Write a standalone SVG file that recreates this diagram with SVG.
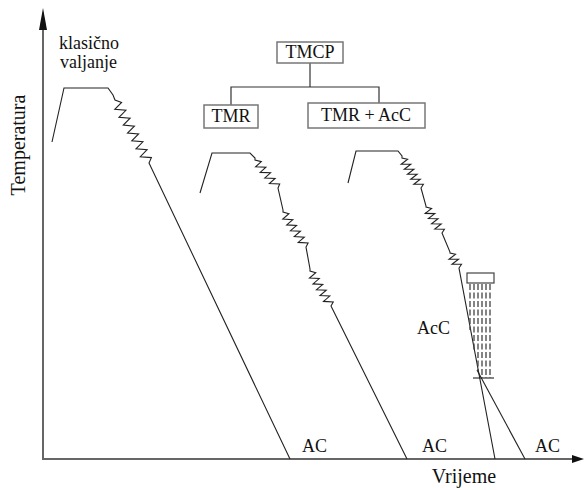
<svg xmlns="http://www.w3.org/2000/svg" width="584" height="490" viewBox="0 0 584 490" font-family="'Liberation Serif', 'DejaVu Serif', serif">
<style>
text{font-family:'Liberation Serif','DejaVu Serif',serif;fill:#111}
.t18{font-size:18px}
.t20{font-size:20px}
.box{fill:#fff;stroke:#777;stroke-width:1.5}
.ln{fill:none;stroke:#222;stroke-width:1.1;stroke-linejoin:miter}
.conn{fill:none;stroke:#333;stroke-width:1.2}
.axis{fill:none;stroke:#666;stroke-width:2}
.dash{fill:none;stroke:#444;stroke-width:1.3;stroke-dasharray:6 2.5}
</style>
<rect width="584" height="490" fill="#fff"/>
<g id="axes">
<line class="axis" x1="43" y1="459" x2="43" y2="26"/>
<line class="axis" x1="42" y1="459" x2="574" y2="459"/>
<polygon points="43,8 47,30 39,30" fill="#111"/>
<polygon points="584,459 572,455 572,463" fill="#111"/>
<text class="t20" transform="translate(25,145) rotate(-90)" text-anchor="middle">Temperatura</text>
<text class="t20" x="464" y="483" text-anchor="middle">Vrijeme</text>
</g>
<g id="connectors">
<polyline class="conn" points="310,63 310,87"/>
<polyline class="conn" points="231,105 231,87 379,87 379,103"/>
</g>
<g id="tmcp">
<rect class="box" x="277" y="42" width="66" height="21"/>
<text class="t18" x="310" y="58" text-anchor="middle">TMCP</text>
</g>
<g id="tmr">
<rect class="box" x="204" y="105" width="54" height="23"/>
<text class="t18" x="231" y="122" text-anchor="middle">TMR</text>
</g>
<g id="tmr-acc">
<rect class="box" x="308" y="103" width="117" height="25"/>
<text class="t18" x="366" y="121" text-anchor="middle">TMR + AcC</text>
</g>
<g id="klasicno">
<text class="t18" x="59" y="49">klasično</text>
<text class="t18" x="60" y="68">valjanje</text>
<path class="ln" d="M52,142 L64,88 L108,88 L113,95 L115,100 L121.6,102.4 L114.8,109.4 L125.9,110.3 L119,117.3 L130.1,118.2 L123.3,125.1 L134.4,126.1 L127.5,133 L138.6,134 L131.8,140.9 L142.9,141.8 L136,148.8 L147.1,149.7 L140.3,156.7 L151.4,157.6 L149,163 L290,459"/>
<text class="t18" x="302" y="452">AC</text>
</g>
<g id="tmr-curve">
<path class="ln" d="M200,193 L212,153 L250,153 L255,158 L255,160 L261.3,161.6 L255.6,166.8 L265.9,167.2 L260.2,172.4 L270.5,172.8 L264.8,178 L275.1,178.4 L269.4,183.6 L279.7,184 L278,188 L283,210 L283,212 L288.9,213.7 L282.8,219 L292.8,219.6 L286.7,224.9 L296.6,225.4 L290.5,230.7 L300.4,231.2 L294.3,236.5 L304.3,237.1 L298.2,242.4 L308.1,242.9 L306,247 L310,269 L310,271 L315.75,272.7 L309.5,278 L319.25,278.55 L313,283.9 L322.75,284.4 L316.5,289.7 L326.25,290.2 L320,295.5 L329.75,296.05 L323.5,301.4 L333.25,301.9 L331,306 L407,459"/>
<text class="t18" x="422" y="452">AC</text>
</g>
<g id="tmr-acc-curve">
<path class="ln" d="M348,183 L356,151 L398,151 L402,156 L402,158 L407.6,159.3 L401.2,164.2 L410.75,164.3 L404.3,169.2 L413.9,169.3 L407.5,174.2 L417.1,174.3 L410.7,179.2 L420.25,179.3 L413.8,184.2 L423.4,184.3 L421,188 L426,206 L426,207 L431.6,208.4 L425.2,213.4 L434.8,213.6 L428.4,218.6 L438,218.8 L431.6,223.8 L441.2,224 L434.8,229 L444.4,229.2 L442,233 L450,252 L450,253 L455.5,254.3 L449,259.2 L458.5,259.3 L452,264.2 L461.5,264.3 L459,268 L495,459"/>
<rect x="467" y="273" width="27" height="10" fill="#fff" stroke="#444" stroke-width="1.2"/>
<line class="dash" x1="470" y1="284" x2="470" y2="330"/>
<line class="dash" x1="474" y1="284" x2="474" y2="350"/>
<line class="dash" x1="478" y1="284" x2="478" y2="370"/>
<line class="dash" x1="482" y1="284" x2="482" y2="378"/>
<line class="dash" x1="486" y1="284" x2="486" y2="378"/>
<line class="dash" x1="490" y1="284" x2="490" y2="378"/>
<line class="ln" x1="473" y1="378" x2="494" y2="378"/>
<line class="ln" x1="477" y1="370" x2="525" y2="459"/>
<text class="t18" x="417" y="334">AcC</text>
<text class="t18" x="535" y="452">AC</text>
</g>
</svg>
